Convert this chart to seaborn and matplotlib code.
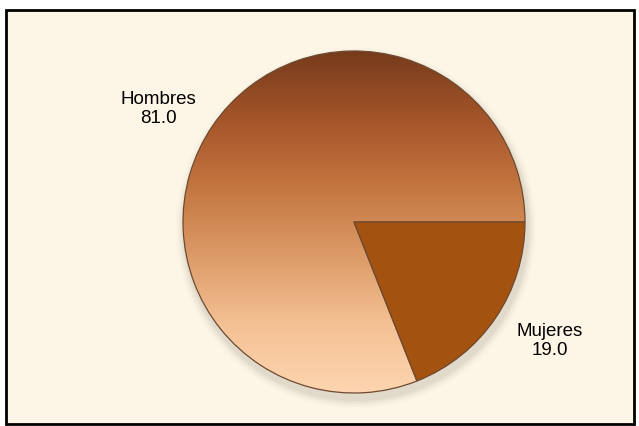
import matplotlib
matplotlib.use("Agg")
import matplotlib.pyplot as plt
import numpy as np
import seaborn as sns
from matplotlib.colors import LinearSegmentedColormap
from matplotlib.patches import Rectangle, Ellipse

# data
categories = ["Hombres", "Mujeres"]
values = [81.0, 19.0]

# styling
bg_color = "#fdf6e6"
slice_grad = ["#763b1b", "#a5552a", "#c47640", "#dc9b68", "#f4c194", "#fdd5b0"]
mujeres_color = sns.color_palette(["#a4520f"])[0]

sns.set_theme(style="white")
plt.rcParams["font.family"] = ["Liberation Sans", "DejaVu Sans"]

W, H = 639, 427
fig = plt.figure(figsize=(W / 100, H / 100), dpi=100)
fig.patch.set_facecolor("white")
ax = fig.add_axes([0, 0, 1, 1])

# framed background
ax.add_patch(Rectangle((6, 2), 628, 414, facecolor=bg_color, edgecolor="black", lw=2, zorder=0))

cx, cy, r = 354, H - 223, 171

# soft shadow under the pie
for k, a in enumerate(np.linspace(0.05, 0.012, 6)):
    ax.add_patch(Ellipse((cx + 2, cy - 6), 2 * r + 4 + 3 * k, 2 * r + 4 + 3 * k,
                         facecolor="#6b5a4a", edgecolor="none", alpha=a, zorder=1))

wedges, _ = ax.pie(values, startangle=0, counterclock=True, radius=r, center=(cx, cy),
                   colors=["none", mujeres_color], frame=True,
                   wedgeprops=dict(edgecolor="#6e4a32", linewidth=0.9))
ax.set_xlim(0, W)
ax.set_ylim(0, H)
ax.set_aspect("equal")
ax.axis("off")
for w in wedges:
    w.set_zorder(3)

# gradient fill for the big slice
cmap = LinearSegmentedColormap.from_list("brown", slice_grad)
grad = np.linspace(0, 1, 256).reshape(-1, 1)
im = ax.imshow(grad, extent=[cx - r, cx + r, cy - r, cy + r], cmap=cmap,
               origin="upper", aspect="auto", zorder=2)
im.set_clip_path(wedges[0])

# slight shading on the small slice
cmap2 = LinearSegmentedColormap.from_list("orange", ["#b35e18", "#a5530f", "#a0500d"])
im2 = ax.imshow(grad, extent=[cx - r, cx + r, cy - r, cy + r], cmap=cmap2,
                origin="lower", aspect="auto", zorder=2.5)
im2.set_clip_path(wedges[1])

# labels
label_pos = [(158, H - 109), (550, H - 341)]
for name, v, (x, y) in zip(categories, values, label_pos):
    ax.text(x, y, f"{name}\n{v:.1f}", ha="center", va="center", fontsize=13.5,
            color="black", linespacing=1.2, zorder=5)

fig.savefig("out.png", dpi=100, facecolor=fig.get_facecolor())
